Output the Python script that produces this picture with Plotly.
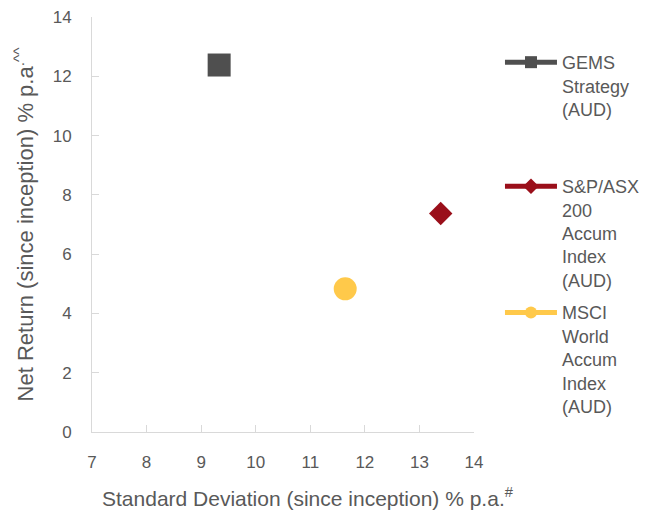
import plotly.graph_objects as go

names = ["GEMS<br>Strategy<br>(AUD)",
         "S&P/ASX<br>200<br>Accum<br>Index<br>(AUD)",
         "MSCI<br>World<br>Accum<br>Index<br>(AUD)"]
std_dev = [9.33, 13.39, 11.64]
net_return = [12.38, 7.37, 4.83]
colors = ["#4f4f4f", "#9a0f1a", "#ffc94a"]
symbols = ["square", "diamond", "circle"]
sizes = [23, 18, 23]
legend_ids = ["legend", "legend2", "legend3"]
legend_y = [0.935, 0.636, 0.332]
x_title = "Standard Deviation (since inception) % p.a.<sup>#</sup>"
y_title = "Net Return (since inception) % p.a<sup>.^^</sup>"

FONT = "Liberation Sans, Arial, sans-serif"
GREY = "#595959"

fig = go.Figure()
for i in range(3):
    fig.add_trace(go.Scatter(
        x=[std_dev[i]], y=[net_return[i]], name=names[i],
        mode="lines+markers",
        marker=dict(symbol=symbols[i], size=sizes[i], color=colors[i]),
        line=dict(color=colors[i], width=3),
        legend=legend_ids[i],
    ))

leg_common = dict(x=1.068, xanchor="left", yanchor="top", valign="top",
                  font=dict(family=FONT, size=18, color=GREY),
                  bgcolor="rgba(0,0,0,0)", itemwidth=52, itemsizing="constant")

fig.update_layout(
    width=652, height=514,
    margin=dict(l=84, r=186, t=9, b=90, autoexpand=False),
    plot_bgcolor="white", paper_bgcolor="white",
    font=dict(family=FONT, size=17, color=GREY),
    showlegend=True,
    legend=dict(y=legend_y[0], **leg_common),
    legend2=dict(y=legend_y[1], **leg_common),
    legend3=dict(y=legend_y[2], **leg_common),
    xaxis=dict(range=[7, 14], dtick=1, tick0=7, showline=True, linecolor="#d9d9d9",
               linewidth=1, ticks="inside", ticklen=7, tickcolor="#d9d9d9",
               showgrid=False, zeroline=False, ticklabelstandoff=15,
               ticklabeloverflow="allow", automargin=False,
               tickfont=dict(family=FONT, size=17, color=GREY)),
    yaxis=dict(range=[0, 14], dtick=2, showline=True, linecolor="#d9d9d9",
               linewidth=1, ticks="inside", ticklen=7, tickcolor="#d9d9d9",
               showgrid=False, zeroline=False, ticklabelstandoff=16,
               ticklabeloverflow="allow", automargin=False,
               tickfont=dict(family=FONT, size=17, color=GREY),
               title=dict(text=y_title,
                          font=dict(family=FONT, size=22, color=GREY), standoff=12)),
    annotations=[dict(text=x_title, xref="paper", yref="paper", x=0.565, y=-0.157,
                      xanchor="center", yanchor="middle", showarrow=False,
                      font=dict(family=FONT, size=21, color=GREY))],
)

fig.write_html("out.html")
